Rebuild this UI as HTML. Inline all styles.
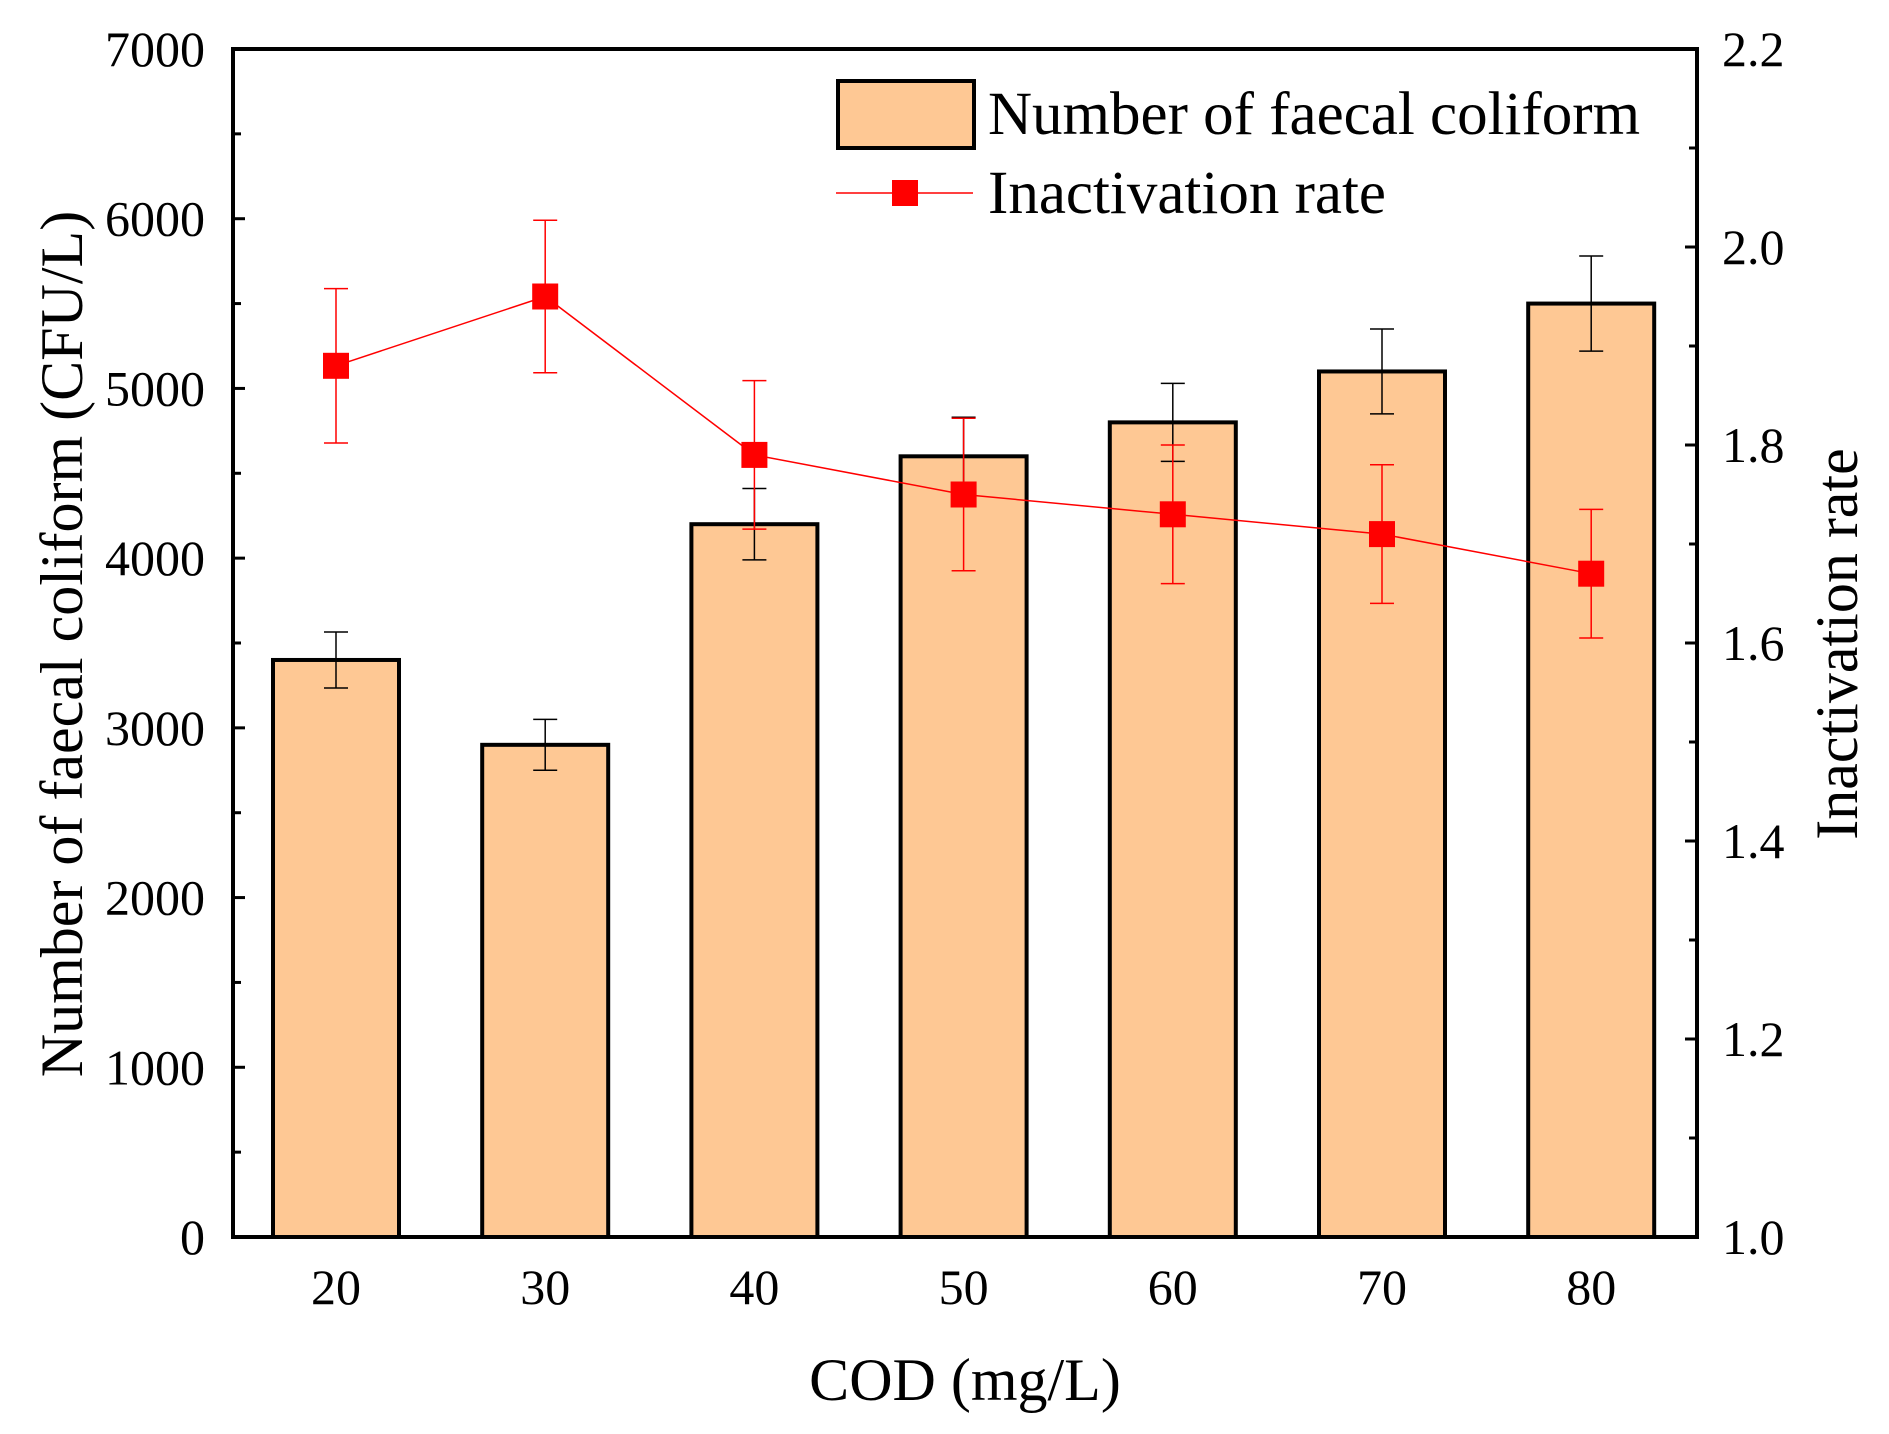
<!DOCTYPE html>
<html><head><meta charset="utf-8"><style>
html,body{margin:0;padding:0;background:#fff}
svg text{font-family:"Liberation Serif",serif;fill:#000}
</style></head><body>
<svg id="chart" width="1889" height="1429" viewBox="0 0 1889 1429" xmlns="http://www.w3.org/2000/svg"></svg>
<script>
const categories = ["20","30","40","50","60","70","80"];
const bacteria = [3400,2900,4200,4600,4800,5100,5500];
const bacteriaErr = [165,150,210,230,230,250,280];
const rate = [1.88,1.95,1.79,1.75,1.73,1.71,1.67];
const rateErr = [0.078,0.077,0.075,0.077,0.07,0.07,0.065];
const leftTicks = [0,1000,2000,3000,4000,5000,6000,7000];
const rightTicks = ["1.0","1.2","1.4","1.6","1.8","2.0","2.2"];

const NS="http://www.w3.org/2000/svg";
const svg=document.getElementById('chart');
const L=233,R=1697,T=49,B=1237;
const x0=336,step=209.2,barW=126;
const xS=i=>x0+i*step;
const yL=v=>B-(v/7000)*(B-T);
const yR=v=>B-((v-1.0)/1.2)*(B-T);
function mk(tag,attrs,parent){const e=document.createElementNS(NS,tag);for(const k in attrs)e.setAttribute(k,attrs[k]);(parent||svg).appendChild(e);return e;}

const gBars=mk('g',{});


bacteria.forEach((v,i)=>{
  const r=mk('rect',{x:xS(i)-barW/2,y:yL(v),width:barW,height:B-yL(v),fill:'#fec894',stroke:'#000','stroke-width':4},gBars);
  
  
});
const gBE=mk('g',{stroke:'#000','stroke-width':1.5});


bacteria.forEach((v,i)=>{
  const c=xS(i),t=yL(v+bacteriaErr[i]),b=yL(v-bacteriaErr[i]);
  mk('line',{x1:c,x2:c,y1:t,y2:b},gBE);
  mk('line',{x1:c-12,x2:c+12,y1:t,y2:t},gBE);
  mk('line',{x1:c-12,x2:c+12,y1:b,y2:b},gBE);
});
const pts=rate.map((v,i)=>xS(i)+','+yR(v)).join(' ');
const pl=mk('polyline',{points:pts,fill:'none',stroke:'#f00','stroke-width':1.5});


const gRE=mk('g',{stroke:'#f00','stroke-width':1.5});


rate.forEach((v,i)=>{
  const c=xS(i),t=yR(v+rateErr[i]),b=yR(v-rateErr[i]);
  mk('line',{x1:c,x2:c,y1:t,y2:b},gRE);
  mk('line',{x1:c-12,x2:c+12,y1:t,y2:t},gRE);
  mk('line',{x1:c-12,x2:c+12,y1:b,y2:b},gRE);
});
rate.forEach((v,i)=>{
  const m=mk('rect',{x:xS(i)-13,y:yR(v)-13,width:26,height:26,fill:'#f00'});
  
  
});
const fr=mk('rect',{x:L,y:T,width:R-L,height:B-T,fill:'none',stroke:'#000','stroke-width':4});


const gLT=mk('g',{stroke:'#000','stroke-width':3});


for(let v=0;v<=7000;v+=500){const y=yL(v);mk('line',{x1:L,x2:L+(v%1000===0?12:8),y1:y,y2:y},gLT);}
leftTicks.forEach(v=>{
  const t=mk('text',{x:205,y:yL(v)+17,'font-size':50,'text-anchor':'end'});t.textContent=v;
  
  
});
const gRT=mk('g',{stroke:'#000','stroke-width':3});


for(let k=0;k<=12;k++){const y=yR(1+k*0.1);mk('line',{x1:R,x2:R-(k%2===0?12:8),y1:y,y2:y},gRT);}
rightTicks.forEach(s=>{
  const t=mk('text',{x:1722,y:yR(parseFloat(s))+17,'font-size':50});t.textContent=s;
  
  
});
categories.forEach((c,i)=>{
  const t=mk('text',{x:xS(i),y:1304,'font-size':50,'text-anchor':'middle'});t.textContent=c;
  
  
});
let t=mk('text',{x:965,y:1400,'font-size':60,'text-anchor':'middle'});t.textContent='COD (mg/L)';


t=mk('text',{x:0,y:0,'font-size':60,'text-anchor':'middle',transform:'translate(82,644) rotate(-90)'});t.textContent='Number of faecal coliform (CFU/L)';


t=mk('text',{x:0,y:0,'font-size':60,'text-anchor':'middle',transform:'translate(1857,644) rotate(-90)'});t.textContent='Inactivation rate';


const lg=mk('g',{});


const lr=mk('rect',{x:838,y:81,width:136,height:67,fill:'#fec894',stroke:'#000','stroke-width':4},lg);


t=mk('text',{x:988,y:134,'font-size':61},lg);t.textContent='Number of faecal coliform';


const ll=mk('line',{x1:836,x2:973,y1:193,y2:193,stroke:'#f00','stroke-width':1.5},lg);


mk('rect',{x:892,y:180,width:26,height:26,fill:'#f00'},lg);
t=mk('text',{x:988,y:213,'font-size':61},lg);t.textContent='Inactivation rate';


</script>
</body></html>
